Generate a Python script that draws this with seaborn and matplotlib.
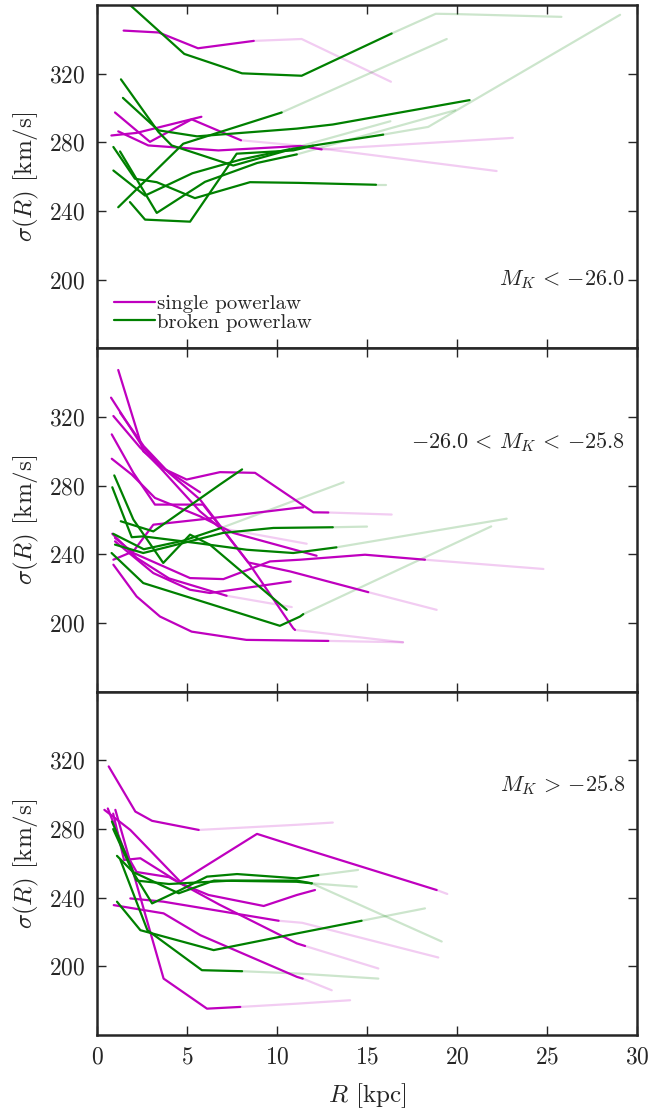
import numpy as np
import pandas as pd
import matplotlib
matplotlib.use("Agg")
import matplotlib.pyplot as plt
from matplotlib.lines import Line2D
import seaborn as sns

# ---------------- data ----------------
# each line: radii, dispersions, number of "solid" points (rest faded), profile type
top_R = [
    [1.48, 3.43, 5.61, 8.71, 11.37, 16.33],
    [1.0, 2.94, 5.26, 8.0, 11.1, 22.2],
    [0.8, 2.2, 5.8],
    [1.18, 2.85, 6.74, 11.3, 12.48, 23.1],
    [1.2, 4.85, 8.06, 11.37, 16.37, 18.82, 19.98, 25.8],
    [1.33, 3.41, 4.15, 7.57, 10.9, 15.9, 18.4, 29.06],
    [1.44, 3.41, 5.56, 11.1, 13.1, 20.7],
    [1.18, 4.79, 10.26, 19.43],
    [0.91, 2.11, 3.32, 5.44, 8.5, 11.2, 15.5, 16.04],
    [1.28, 3.32, 6.0, 8.9, 11.1, 19.9],
    [0.91, 2.67, 5.3, 8.0, 10.7, 16.3],
    [1.83, 2.67, 5.17, 7.76, 10.9, 12.0],
]
top_sig = [
    [345.1, 344.0, 334.8, 339.1, 340.2, 315.3],
    [297.4, 280.3, 293.4, 281.2, 278.2, 263.3],
    [284.0, 285.5, 294.9],
    [286.4, 278.2, 275.3, 277.9, 275.9, 282.6],
    [366.0, 331.5, 320.2, 318.8, 343.4, 354.9, 354.7, 353.1],
    [316.7, 286.1, 278.2, 266.5, 276.3, 284.5, 289.0, 354.3],
    [305.9, 287.0, 283.5, 288.0, 290.4, 304.6],
    [242.2, 279.2, 297.4, 340.2],
    [277.3, 258.8, 256.8, 247.5, 256.8, 256.4, 255.3, 255.3],
    [274.7, 238.9, 257.0, 268.0, 273.0, 298.7],
    [263.6, 249.0, 262.0, 270.0, 276.0, 292.3],
    [245.2, 235.0, 233.8, 273.4, 275.3, 278.0],
]
top_nsolid = [4, 4, 3, 5, 5, 6, 6, 3, 7, 5, 5, 6]
top_kind = ["single"] * 4 + ["broken"] * 8

mid_R = [
    [0.78, 2.57, 3.78, 4.98, 6.83, 8.78, 11.11, 12.02, 12.85, 16.37],
    [1.18, 2.57, 3.78, 5.72],
    [0.91, 2.39, 3.5, 4.61, 5.72, 6.83, 11.65],
    [0.91, 2.02, 3.13, 5.72, 11.1, 11.46],
    [0.82, 2.02, 3.22, 5.89, 8.43, 10.9, 11.0, 17.0],
    [1.28, 2.6, 4.0, 5.72, 8.4, 10.72, 15.07, 18.87],
    [1.0, 2.02, 5.17, 7.02, 9.61, 11.28, 14.89, 18.22, 24.8],
    [0.82, 1.93, 3.22, 5.72, 7.57, 12.2],
    [1.0, 3.13, 5.17, 6.28, 10.76],
    [0.85, 2.2, 4.0, 7.2, 10.82],
    [0.91, 2.2, 3.5, 5.26, 8.3, 11.28, 12.85, 17.0],
    [1.32, 3.13, 6.83, 8.06],
    [1.0, 2.57, 4.78, 7.0, 9.8, 13.1, 15.0],
    [0.96, 2.02, 3.68, 5.17, 6.28, 10.54],
    [0.81, 2.57, 10.16, 11.28, 11.46, 21.9],
    [0.85, 1.93, 2.57, 5.54, 8.32, 10.9, 13.3, 22.76],
    [0.9, 2.6, 4.8, 6.9, 13.7],
]
mid_sig = [
    [331.3, 302.1, 289.5, 283.6, 287.9, 287.5, 271.0, 264.5, 264.4, 263.2],
    [347.4, 300.1, 289.5, 276.2],
    [320.6, 302.3, 290.6, 277.8, 265.1, 255.4, 246.2],
    [236.9, 241.8, 257.3, 260.3, 267.1, 267.4],
    [309.9, 287.5, 269.0, 269.0, 235.0, 197.0, 196.0, 188.8],
    [322.6, 303.0, 287.5, 272.0, 235.3, 230.1, 218.0, 207.7],
    [249.6, 240.8, 226.2, 225.6, 235.9, 236.9, 239.8, 236.9, 231.5],
    [295.7, 286.5, 272.9, 262.2, 252.5, 239.2],
    [247.6, 229.1, 219.4, 217.5, 224.2],
    [252.0, 238.0, 226.0, 215.9, 209.3],
    [234.0, 215.5, 203.8, 195.0, 190.2, 189.8, 189.6, 188.8],
    [259.3, 253.4, 280.7, 289.5],
    [245.7, 240.8, 246.6, 252.5, 255.4, 255.8, 256.2],
    [286.0, 260.3, 235.0, 251.5, 245.6, 207.7],
    [240.8, 223.3, 198.4, 203.8, 205.2, 256.3],
    [279.1, 250.0, 250.5, 246.6, 242.7, 240.8, 244.1, 260.8],
    [252.0, 243.0, 248.0, 255.4, 282.0],
]
mid_nsolid = [9, 4, 6, 6, 7, 7, 8, 6, 5, 4, 7, 4, 6, 6, 5, 7, 4]
mid_kind = ["single"] * 11 + ["broken"] * 6

bot_R = [
    [0.65, 2.13, 3.06, 5.65, 11.1, 13.1],
    [0.41, 1.85, 4.63, 8.89, 11.11, 18.87, 19.46],
    [1.02, 3.7, 6.11, 7.96, 11.1, 14.06],
    [0.9, 1.5, 2.41, 4.63, 6.2, 9.26, 11.1, 12.11],
    [1.85, 3.7, 10.09, 11.4, 18.96],
    [0.93, 3.7, 5.74, 11.11, 11.43, 13.04],
    [0.6, 1.5, 2.2, 4.0, 6.8, 11.1, 11.56, 15.63],
    [0.83, 2.04, 3.06, 4.63, 6.11, 7.78, 11.1, 12.3, 14.5],
    [1.11, 2.0, 4.54, 6.5, 11.1, 11.93, 14.43],
    [0.9, 2.2, 4.0, 7.5, 11.1, 11.93, 19.15],
    [1.11, 2.41, 6.48, 11.1, 14.7, 18.22],
    [1.3, 2.8, 5.83, 8.06, 11.1, 15.63],
]
bot_sig = [
    [316.5, 290.2, 284.8, 279.5, 282.5, 283.8],
    [291.2, 279.5, 249.3, 277.2, 269.8, 244.5, 242.2],
    [291.2, 192.9, 175.4, 176.4, 178.3, 180.3],
    [289.0, 262.0, 263.0, 248.4, 241.6, 235.2, 241.6, 244.5],
    [239.6, 237.7, 226.6, 225.4, 205.2],
    [235.7, 230.9, 218.2, 193.9, 192.9, 186.1],
    [292.0, 268.0, 255.0, 252.0, 236.0, 213.4, 211.9, 198.8],
    [284.4, 254.2, 236.7, 244.5, 252.3, 253.8, 251.3, 253.2, 256.2],
    [264.4, 255.0, 242.6, 250.0, 249.3, 248.4, 246.4],
    [280.0, 250.0, 248.0, 250.0, 250.0, 248.4, 214.5],
    [237.7, 221.1, 209.5, 219.2, 226.6, 233.8],
    [262.0, 221.1, 197.8, 197.2, 195.9, 192.9],
]
bot_nsolid = [4, 6, 4, 8, 3, 5, 7, 8, 6, 6, 5, 4]
bot_kind = ["single"] * 7 + ["broken"] * 5

panel_labels = [r"$M_K\,<\,{-26.0}$", r"${-26.0}\,<\,M_K\,<\,{-25.8}$", r"$M_K\,>\,{-25.8}$"]
legend_labels = ["single powerlaw", "broken powerlaw"]
x_ticks = [0, 5, 10, 15, 20, 25, 30]
y_ticks = [200, 240, 280, 320]

# ---------------- style ----------------
sns.set_style("ticks")
plt.rcParams.update({
    "font.family": ["cmr10"],
    "mathtext.fontset": "cm",
    "axes.formatter.use_mathtext": True,
    "axes.linewidth": 1.8,
    "xtick.major.width": 1.0,
    "ytick.major.width": 1.0,
    "xtick.major.size": 6.5,
    "ytick.major.size": 6.5,
    "xtick.direction": "in",
    "ytick.direction": "in",
    "axes.unicode_minus": False,
})
palette = {"single": "#bf00bf", "broken": "#008000"}


def build_frames(Rs, sigs, nsolid, kinds):
    solid, faded = [], []
    for i, (R, s, n, k) in enumerate(zip(Rs, sigs, nsolid, kinds)):
        for j in range(n):
            solid.append((i, k, R[j], s[j], j))
        if n < len(R):
            for j in range(n - 1, len(R)):
                faded.append((i, k, R[j], s[j], j))
    cols = ["line", "kind", "R", "sigma", "order"]
    return pd.DataFrame(solid, columns=cols), pd.DataFrame(faded, columns=cols)


fig = plt.figure(figsize=(6.51, 11.13), dpi=100)
gs = fig.add_gridspec(3, 1, left=0.149, right=0.9785, top=0.9955, bottom=0.070, hspace=0)
axes = [fig.add_subplot(gs[i]) for i in range(3)]

panels = [
    (top_R, top_sig, top_nsolid, top_kind),
    (mid_R, mid_sig, mid_nsolid, mid_kind),
    (bot_R, bot_sig, bot_nsolid, bot_kind),
]
label_y = [0.20, 0.727, 0.729]

for ax, (Rs, sigs, ns, ks), lab, ly in zip(axes, panels, panel_labels, label_y):
    solid, faded = build_frames(Rs, sigs, ns, ks)
    if len(faded):
        sns.lineplot(data=faded, x="R", y="sigma", hue="kind", units="line",
                     estimator=None, sort=False, palette=palette, alpha=0.2,
                     lw=1.6, legend=False, ax=ax)
    sns.lineplot(data=solid, x="R", y="sigma", hue="kind", units="line",
                 estimator=None, sort=False, palette=palette, lw=1.6,
                 legend=False, ax=ax)
    ax.set_xlim(0, 30)
    ax.set_ylim(160, 360)
    ax.set_xticks(x_ticks)
    ax.set_yticks(y_ticks)
    ax.tick_params(direction="in", top=True, right=True, labelsize=17, pad=8)
    ax.set_ylabel(r"$\sigma(R)$ [km/s]", fontsize=18, labelpad=6)
    ax.set_xlabel("")
    ax.text(0.978, ly, lab, transform=ax.transAxes, ha="right", va="center",
            fontsize=16)
    for sp in ax.spines.values():
        sp.set_linewidth(1.8)

for ax in axes[:2]:
    ax.tick_params(labelbottom=False)
axes[2].set_xlabel(r"$R$ [kpc]", fontsize=18, labelpad=9)

handles = [Line2D([], [], color=palette["single"], lw=1.6),
           Line2D([], [], color=palette["broken"], lw=1.6)]
axes[0].legend(handles, legend_labels, loc="lower left", frameon=False,
               fontsize=15, handlelength=2.0, handletextpad=0.1,
               labelspacing=0.0, borderaxespad=0.6, borderpad=0.2)

fig.savefig("out.png", dpi=100)
